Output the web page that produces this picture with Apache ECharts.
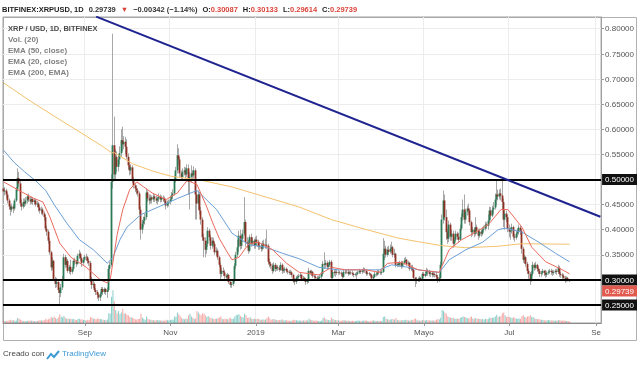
<!DOCTYPE html>
<html><head><meta charset="utf-8">
<script src="https://cdn.jsdelivr.net/npm/echarts@6/dist/echarts.min.js"></script>
<style>html,body{margin:0;padding:0;background:#fff}#c{width:640px;height:366px}</style>
</head><body><div id="c"></div>
<script>
// ---------- DATA ----------
const firstDay = '2018-07-05';
const lastAxisDay = '2019-09-04';
// daily candles [open, close, low, high] from 2018-07-05 to 2019-08-13
const ohlc = [
// 2018-07
[0.482,0.476,0.470,0.488],[0.476,0.478,0.468,0.485],[0.478,0.470,0.462,0.482],[0.470,0.458,0.452,0.474],[0.458,0.446,0.440,0.462],
[0.446,0.440,0.428,0.450],[0.440,0.446,0.435,0.452],[0.446,0.442,0.433,0.451],[0.442,0.458,0.438,0.462],[0.458,0.480,0.455,0.485],
[0.480,0.503,0.476,0.522],[0.503,0.492,0.485,0.515],[0.492,0.452,0.446,0.498],[0.452,0.446,0.438,0.460],[0.446,0.455,0.442,0.462],
[0.455,0.452,0.445,0.462],[0.452,0.458,0.448,0.465],[0.458,0.466,0.452,0.470],[0.466,0.460,0.455,0.472],[0.460,0.456,0.450,0.466],
[0.456,0.461,0.451,0.466],[0.461,0.455,0.449,0.464],[0.455,0.458,0.450,0.462],[0.458,0.450,0.446,0.461],[0.450,0.452,0.445,0.457],
[0.452,0.444,0.436,0.455],[0.444,0.438,0.432,0.448],
// 2018-08
[0.438,0.440,0.430,0.446],[0.440,0.432,0.428,0.444],[0.432,0.425,0.418,0.436],[0.425,0.402,0.398,0.430],[0.402,0.396,0.388,0.408],
[0.396,0.378,0.372,0.400],[0.378,0.355,0.350,0.384],[0.355,0.325,0.318,0.358],[0.325,0.338,0.320,0.345],[0.338,0.302,0.298,0.340],
[0.302,0.292,0.284,0.306],[0.292,0.296,0.285,0.304],[0.296,0.280,0.274,0.300],[0.280,0.274,0.252,0.284],[0.274,0.285,0.266,0.292],
[0.285,0.302,0.280,0.308],[0.302,0.345,0.298,0.352],[0.345,0.330,0.324,0.350],[0.330,0.338,0.325,0.345],[0.338,0.318,0.314,0.342],
[0.318,0.326,0.312,0.330],[0.326,0.316,0.310,0.340],[0.316,0.322,0.312,0.326],[0.322,0.338,0.318,0.342],[0.338,0.336,0.330,0.344],
[0.336,0.332,0.326,0.340],[0.332,0.348,0.330,0.352],[0.348,0.352,0.342,0.360],[0.352,0.343,0.338,0.356],[0.343,0.334,0.326,0.346],
[0.334,0.340,0.330,0.345],
// 2018-09
[0.340,0.346,0.336,0.350],[0.346,0.345,0.338,0.352],[0.345,0.338,0.332,0.348],[0.338,0.334,0.328,0.342],[0.334,0.302,0.296,0.338],
[0.302,0.290,0.282,0.306],[0.290,0.292,0.284,0.298],[0.292,0.280,0.276,0.295],[0.280,0.276,0.270,0.284],[0.276,0.270,0.262,0.280],
[0.270,0.265,0.258,0.274],[0.265,0.272,0.258,0.276],[0.272,0.282,0.268,0.286],[0.282,0.276,0.270,0.286],[0.276,0.282,0.272,0.285],
[0.282,0.276,0.270,0.284],[0.276,0.280,0.264,0.285],[0.280,0.322,0.276,0.328],[0.322,0.330,0.300,0.336],[0.330,0.495,0.326,0.510],
[0.495,0.568,0.482,0.790],[0.568,0.510,0.498,0.625],[0.510,0.545,0.500,0.560],[0.545,0.525,0.515,0.556],[0.525,0.540,0.516,0.550],
[0.540,0.552,0.530,0.566],[0.552,0.578,0.545,0.600],[0.578,0.570,0.556,0.605],[0.570,0.575,0.560,0.586],[0.575,0.565,0.550,0.585],
// 2018-10
[0.565,0.545,0.540,0.580],[0.545,0.528,0.520,0.552],[0.528,0.518,0.508,0.535],[0.518,0.524,0.510,0.530],[0.524,0.500,0.494,0.528],
[0.500,0.488,0.482,0.505],[0.488,0.482,0.475,0.492],[0.482,0.478,0.470,0.488],[0.478,0.472,0.466,0.482],[0.472,0.440,0.430,0.476],
[0.440,0.400,0.380,0.446],[0.400,0.412,0.392,0.420],[0.412,0.418,0.405,0.426],[0.418,0.425,0.410,0.432],[0.425,0.474,0.420,0.482],
[0.474,0.462,0.455,0.478],[0.462,0.458,0.450,0.470],[0.458,0.464,0.452,0.470],[0.464,0.460,0.452,0.468],[0.460,0.466,0.455,0.472],
[0.466,0.462,0.455,0.470],[0.462,0.458,0.452,0.468],[0.458,0.462,0.450,0.466],[0.462,0.465,0.455,0.472],[0.465,0.460,0.454,0.470],
[0.460,0.463,0.455,0.468],[0.463,0.461,0.455,0.468],[0.461,0.458,0.452,0.466],[0.458,0.448,0.440,0.462],[0.448,0.452,0.444,0.458],
[0.452,0.455,0.446,0.460],
// 2018-11
[0.455,0.460,0.450,0.466],[0.460,0.468,0.456,0.475],[0.468,0.472,0.462,0.480],[0.472,0.500,0.468,0.508],[0.500,0.518,0.494,0.525],
[0.518,0.548,0.512,0.570],[0.548,0.540,0.528,0.562],[0.540,0.512,0.505,0.545],[0.512,0.505,0.498,0.518],[0.505,0.515,0.500,0.522],
[0.515,0.518,0.508,0.525],[0.518,0.510,0.502,0.524],[0.510,0.522,0.505,0.530],[0.522,0.495,0.470,0.530],[0.495,0.505,0.440,0.515],
[0.505,0.512,0.495,0.528],[0.512,0.508,0.500,0.518],[0.508,0.518,0.502,0.526],[0.518,0.470,0.420,0.522],[0.470,0.452,0.420,0.478],
[0.452,0.470,0.440,0.478],[0.470,0.438,0.430,0.475],[0.438,0.420,0.410,0.445],[0.420,0.385,0.378,0.425],[0.385,0.378,0.345,0.392],
[0.378,0.360,0.345,0.385],[0.360,0.372,0.352,0.378],[0.372,0.398,0.366,0.405],[0.398,0.385,0.378,0.402],[0.385,0.368,0.360,0.390],
// 2018-12
[0.368,0.378,0.362,0.385],[0.378,0.372,0.365,0.384],[0.372,0.355,0.350,0.376],[0.355,0.358,0.348,0.365],[0.358,0.345,0.340,0.362],
[0.345,0.330,0.325,0.348],[0.330,0.312,0.300,0.335],[0.312,0.318,0.306,0.324],[0.318,0.315,0.308,0.325],[0.315,0.308,0.302,0.320],
[0.308,0.305,0.298,0.312],[0.305,0.310,0.300,0.314],[0.310,0.296,0.292,0.312],[0.296,0.290,0.285,0.300],[0.290,0.292,0.284,0.296],
[0.292,0.298,0.288,0.302],[0.298,0.328,0.295,0.333],[0.328,0.350,0.322,0.356],[0.350,0.365,0.345,0.380],[0.365,0.388,0.355,0.398],
[0.388,0.368,0.360,0.400],[0.368,0.382,0.362,0.390],[0.382,0.392,0.376,0.400],[0.392,0.415,0.388,0.465],[0.415,0.375,0.366,0.420],
[0.375,0.372,0.364,0.385],[0.372,0.358,0.352,0.380],[0.358,0.385,0.355,0.390],[0.385,0.372,0.366,0.392],[0.372,0.378,0.368,0.385],
[0.378,0.368,0.362,0.382],
// 2019-01
[0.368,0.380,0.362,0.386],[0.380,0.376,0.368,0.388],[0.376,0.366,0.360,0.380],[0.366,0.368,0.360,0.374],[0.368,0.362,0.356,0.372],
[0.362,0.372,0.358,0.378],[0.372,0.368,0.362,0.380],[0.368,0.370,0.362,0.382],[0.370,0.368,0.362,0.400],[0.368,0.336,0.330,0.372],
[0.336,0.332,0.325,0.342],[0.332,0.328,0.322,0.336],[0.328,0.318,0.312,0.333],[0.318,0.330,0.315,0.335],[0.330,0.322,0.316,0.334],
[0.322,0.326,0.318,0.330],[0.326,0.324,0.318,0.330],[0.324,0.320,0.316,0.328],[0.320,0.330,0.318,0.335],[0.330,0.318,0.312,0.333],
[0.318,0.320,0.314,0.324],[0.320,0.322,0.314,0.326],[0.322,0.318,0.314,0.325],[0.318,0.316,0.311,0.322],[0.316,0.314,0.310,0.320],
[0.314,0.315,0.310,0.320],[0.315,0.310,0.305,0.318],[0.310,0.300,0.294,0.312],[0.300,0.296,0.290,0.303],[0.296,0.304,0.292,0.308],
[0.304,0.306,0.298,0.310],
// 2019-02
[0.306,0.308,0.300,0.312],[0.308,0.310,0.304,0.314],[0.310,0.302,0.298,0.312],[0.302,0.304,0.298,0.308],[0.304,0.302,0.298,0.306],
[0.302,0.296,0.290,0.304],[0.296,0.298,0.292,0.302],[0.298,0.318,0.294,0.324],[0.318,0.314,0.310,0.320],[0.314,0.316,0.308,0.320],
[0.316,0.308,0.304,0.318],[0.308,0.306,0.302,0.312],[0.306,0.304,0.300,0.310],[0.304,0.302,0.298,0.308],[0.302,0.304,0.300,0.308],
[0.304,0.306,0.301,0.310],[0.306,0.312,0.302,0.316],[0.312,0.332,0.308,0.338],[0.332,0.330,0.322,0.355],[0.330,0.334,0.324,0.340],
[0.334,0.326,0.320,0.338],[0.326,0.330,0.322,0.334],[0.330,0.336,0.326,0.340],[0.336,0.304,0.298,0.340],[0.304,0.316,0.302,0.320],
[0.316,0.314,0.308,0.320],[0.314,0.316,0.306,0.320],[0.316,0.314,0.310,0.320],
// 2019-03
[0.314,0.315,0.310,0.320],[0.315,0.314,0.310,0.318],[0.314,0.312,0.308,0.317],[0.312,0.306,0.302,0.315],[0.306,0.316,0.304,0.320],
[0.316,0.315,0.311,0.320],[0.315,0.316,0.312,0.320],[0.316,0.312,0.308,0.322],[0.312,0.315,0.310,0.318],[0.315,0.314,0.310,0.318],
[0.314,0.312,0.308,0.318],[0.312,0.310,0.305,0.315],[0.310,0.311,0.307,0.314],[0.311,0.312,0.300,0.316],[0.312,0.315,0.309,0.318],
[0.315,0.318,0.312,0.322],[0.318,0.316,0.312,0.320],[0.316,0.318,0.312,0.322],[0.318,0.320,0.314,0.325],[0.320,0.318,0.314,0.324],
[0.318,0.312,0.308,0.322],[0.312,0.313,0.309,0.316],[0.313,0.312,0.308,0.316],[0.312,0.310,0.306,0.314],[0.310,0.303,0.298,0.312],
[0.303,0.306,0.300,0.310],[0.306,0.312,0.304,0.316],[0.312,0.311,0.307,0.315],[0.311,0.316,0.308,0.320],[0.316,0.315,0.311,0.320],
[0.315,0.314,0.310,0.318],
// 2019-04
[0.314,0.316,0.310,0.320],[0.316,0.352,0.314,0.383],[0.352,0.362,0.340,0.378],[0.362,0.350,0.344,0.368],[0.350,0.360,0.346,0.366],
[0.360,0.356,0.350,0.368],[0.356,0.362,0.352,0.370],[0.362,0.365,0.354,0.376],[0.365,0.350,0.345,0.368],[0.350,0.352,0.344,0.362],
[0.352,0.330,0.325,0.354],[0.330,0.332,0.325,0.336],[0.332,0.330,0.326,0.336],[0.330,0.334,0.326,0.338],[0.334,0.326,0.322,0.338],
[0.326,0.334,0.324,0.338],[0.334,0.338,0.330,0.344],[0.338,0.340,0.334,0.346],[0.340,0.332,0.328,0.342],[0.332,0.334,0.328,0.338],
[0.334,0.322,0.318,0.336],[0.322,0.325,0.318,0.330],[0.325,0.320,0.316,0.330],[0.320,0.304,0.298,0.322],[0.304,0.298,0.286,0.306],
[0.298,0.302,0.292,0.306],[0.302,0.300,0.296,0.305],[0.300,0.304,0.296,0.308],[0.304,0.302,0.298,0.306],[0.302,0.312,0.300,0.316],
// 2019-05
[0.312,0.308,0.304,0.316],[0.308,0.312,0.305,0.316],[0.312,0.318,0.308,0.324],[0.318,0.316,0.308,0.322],[0.316,0.312,0.307,0.320],
[0.312,0.314,0.306,0.318],[0.314,0.310,0.305,0.318],[0.310,0.312,0.306,0.316],[0.312,0.310,0.305,0.315],[0.310,0.306,0.300,0.316],
[0.306,0.302,0.294,0.310],[0.302,0.304,0.296,0.312],[0.304,0.330,0.300,0.336],[0.330,0.420,0.326,0.430],[0.420,0.458,0.412,0.478],
[0.458,0.425,0.418,0.470],[0.425,0.395,0.380,0.440],[0.395,0.382,0.372,0.402],[0.382,0.410,0.375,0.418],[0.410,0.386,0.378,0.414],
[0.386,0.392,0.378,0.400],[0.392,0.372,0.364,0.398],[0.372,0.380,0.366,0.386],[0.380,0.392,0.376,0.398],[0.392,0.386,0.380,0.396],
[0.386,0.380,0.374,0.394],[0.380,0.402,0.378,0.410],[0.402,0.425,0.398,0.432],[0.425,0.440,0.418,0.460],[0.440,0.420,0.412,0.470],
[0.420,0.436,0.412,0.442],
// 2019-06
[0.436,0.442,0.428,0.448],[0.442,0.438,0.430,0.452],[0.438,0.415,0.408,0.442],[0.415,0.395,0.385,0.418],[0.395,0.400,0.388,0.406],
[0.400,0.392,0.385,0.404],[0.392,0.405,0.388,0.425],[0.405,0.398,0.392,0.410],[0.398,0.388,0.380,0.402],[0.388,0.396,0.384,0.402],
[0.396,0.392,0.386,0.400],[0.392,0.400,0.388,0.405],[0.400,0.402,0.395,0.408],[0.402,0.410,0.398,0.416],[0.410,0.408,0.402,0.415],
[0.408,0.418,0.400,0.430],[0.418,0.438,0.414,0.446],[0.438,0.428,0.420,0.445],[0.428,0.440,0.425,0.448],[0.440,0.444,0.432,0.455],
[0.444,0.460,0.440,0.472],[0.460,0.470,0.448,0.500],[0.470,0.466,0.458,0.480],[0.466,0.472,0.460,0.480],[0.472,0.468,0.458,0.482],
[0.468,0.455,0.440,0.505],[0.455,0.420,0.405,0.462],[0.420,0.432,0.400,0.440],[0.432,0.425,0.415,0.438],[0.425,0.402,0.395,0.430],
// 2019-07
[0.402,0.396,0.385,0.410],[0.396,0.398,0.380,0.404],[0.398,0.405,0.392,0.412],[0.405,0.386,0.380,0.408],[0.386,0.384,0.376,0.392],
[0.384,0.392,0.380,0.398],[0.392,0.396,0.386,0.402],[0.396,0.404,0.390,0.410],[0.404,0.398,0.390,0.408],[0.398,0.362,0.352,0.402],
[0.362,0.340,0.334,0.366],[0.340,0.345,0.332,0.350],[0.345,0.332,0.326,0.348],[0.332,0.318,0.312,0.336],[0.318,0.312,0.302,0.322],
[0.312,0.300,0.290,0.316],[0.300,0.312,0.296,0.318],[0.312,0.330,0.308,0.336],[0.330,0.324,0.318,0.334],[0.324,0.330,0.320,0.336],
[0.330,0.322,0.316,0.332],[0.322,0.318,0.312,0.326],[0.318,0.312,0.306,0.322],[0.312,0.314,0.306,0.318],[0.314,0.318,0.310,0.322],
[0.318,0.314,0.308,0.320],[0.314,0.310,0.304,0.320],[0.310,0.314,0.306,0.318],[0.314,0.316,0.310,0.320],[0.316,0.318,0.312,0.322],
[0.318,0.316,0.310,0.322],
// 2019-08
[0.316,0.314,0.308,0.320],[0.314,0.316,0.310,0.320],[0.316,0.318,0.312,0.322],[0.318,0.316,0.310,0.322],[0.316,0.324,0.312,0.330],
[0.324,0.312,0.306,0.328],[0.312,0.310,0.304,0.316],[0.310,0.308,0.302,0.314],[0.308,0.304,0.298,0.312],[0.304,0.300,0.294,0.308],
[0.300,0.304,0.296,0.307],[0.304,0.301,0.297,0.306],[0.30087,0.29739,0.29614,0.30133]
];
// daily volume (millions XRP, approx.)
const volume = [
22,18,15,20,25,30,22,26,20,24,45,38,30,22,18,16,20,18,22,20,24,18,16,15,18,22,26,
24,22,26,38,30,35,42,55,48,60,45,38,52,80,60,50,65,48,40,42,36,40,35,38,30,28,36,40,32,35,28,
26,24,30,28,55,48,38,40,35,42,38,36,34,30,28,26,32,90,85,240,300,200,120,90,110,80,95,130,85,90,
75,70,55,50,48,42,35,32,36,40,85,50,38,30,60,40,32,30,28,26,24,26,28,25,24,22,20,22,30,26,24,
28,32,30,60,55,95,80,65,45,40,35,42,38,70,85,60,48,40,42,110,95,80,70,90,85,70,55,65,50,45,
42,36,40,38,45,50,60,40,35,38,36,34,42,48,36,38,60,70,75,80,65,55,50,85,70,45,48,52,40,36,38,
35,40,36,32,28,34,30,32,45,60,42,30,34,36,30,28,26,28,30,32,24,26,25,22,20,20,22,30,28,26,24,
22,20,22,24,20,26,24,40,30,25,22,20,22,20,18,18,24,45,50,35,30,28,26,48,36,30,28,26,
22,20,20,24,26,22,20,22,18,18,20,18,18,20,22,20,18,20,22,24,22,18,16,16,24,22,20,18,20,18,18,
20,55,60,40,35,30,32,34,36,30,45,30,26,24,26,28,26,30,28,24,22,30,26,34,42,30,24,22,24,26,
26,24,28,26,24,22,24,22,24,30,36,32,48,120,110,95,85,60,55,50,45,48,40,42,38,40,45,55,60,55,50,
45,40,52,60,42,38,45,40,38,36,34,36,32,38,34,40,50,45,48,50,60,75,55,60,65,90,95,70,55,60,
55,50,46,52,45,40,38,42,40,65,70,55,50,60,62,70,58,55,42,38,36,34,32,30,28,26,24,26,28,26,24,
22,24,20,22,28,26,22,20,22,20,18,18,14
];
const ema20 = [
['2018-07-05',0.495],['2018-07-16',0.478],['2018-07-26',0.463],['2018-08-02',0.455],['2018-08-07',0.425],
['2018-08-14',0.373],['2018-08-22',0.345],['2018-09-02',0.325],['2018-09-12',0.300],['2018-09-17',0.294],
['2018-09-19',0.300],['2018-09-21',0.335],['2018-09-24',0.390],['2018-09-28',0.440],['2018-10-03',0.480],
['2018-10-08',0.495],['2018-10-13',0.485],['2018-10-19',0.473],['2018-10-29',0.460],['2018-11-06',0.473],
['2018-11-13',0.498],['2018-11-20',0.490],['2018-11-27',0.445],['2018-12-01',0.415],['2018-12-06',0.382],
['2018-12-11',0.358],['2018-12-15',0.340],['2018-12-20',0.345],['2018-12-27',0.372],['2019-01-03',0.375],
['2019-01-13',0.360],['2019-01-23',0.333],['2019-02-01',0.315],['2019-02-15',0.310],['2019-02-24',0.325],
['2019-03-06',0.320],['2019-03-21',0.320],['2019-03-30',0.315],['2019-04-05',0.333],['2019-04-15',0.335],
['2019-04-27',0.320],['2019-05-12',0.315],['2019-05-19',0.360],['2019-05-28',0.380],['2019-06-07',0.395],
['2019-06-16',0.410],['2019-06-25',0.440],['2019-06-30',0.440],['2019-07-10',0.405],['2019-07-17',0.365],
['2019-07-27',0.336],['2019-08-08',0.320],['2019-08-13',0.312]
];
const ema50 = [
['2018-07-05',0.558],['2018-07-12',0.535],['2018-07-20',0.515],['2018-07-28',0.497],['2018-08-04',0.478],
['2018-08-10',0.450],['2018-08-19',0.413],['2018-08-28',0.380],['2018-09-07',0.360],['2018-09-17',0.333],
['2018-09-21',0.345],['2018-09-26',0.380],['2018-10-01',0.405],['2018-10-11',0.430],['2018-10-25',0.447],
['2018-11-06',0.462],['2018-11-20',0.478],['2018-12-04',0.440],['2018-12-15',0.393],['2018-12-27',0.370],
['2019-01-08',0.365],['2019-01-20',0.353],['2019-02-01',0.342],['2019-02-15',0.325],['2019-03-01',0.320],
['2019-03-21',0.320],['2019-03-30',0.320],['2019-04-08',0.330],['2019-04-20',0.325],['2019-04-27',0.320],
['2019-05-12',0.315],['2019-05-19',0.340],['2019-05-31',0.360],['2019-06-12',0.375],['2019-06-23',0.400],
['2019-06-28',0.403],['2019-07-10',0.395],['2019-07-22',0.375],['2019-08-03',0.353],['2019-08-13',0.336]
];
const ema200 = [
['2018-07-05',0.692],['2018-07-24',0.656],['2018-08-14',0.619],['2018-09-01',0.588],['2018-09-14',0.565],
['2018-09-20',0.553],['2018-09-22',0.553],['2018-10-05',0.531],['2018-10-20',0.516],['2018-11-02',0.506],
['2018-11-22',0.499],['2018-12-15',0.485],['2019-01-08',0.465],['2019-02-01',0.445],['2019-02-24',0.420],
['2019-03-21',0.400],['2019-04-13',0.383],['2019-04-27',0.376],['2019-05-14',0.368],['2019-05-31',0.364],
['2019-06-23',0.367],['2019-07-10',0.372],['2019-08-13',0.371]
];
const levels = [0.50, 0.30, 0.25];
const trendLine = [['2018-09-09', 0.824], ['2019-09-04', 0.4257]];
const lastPrice = 0.29739;
const priceTicks = [0.25,0.30,0.35,0.40,0.45,0.50,0.55,0.60,0.65,0.70,0.75,0.80];
const timeTicks = [['2018-09-01','Sep'],['2018-11-01','Nov'],['2019-01-01','2019'],['2019-03-01','Mar'],
                   ['2019-05-01','Mayo'],['2019-07-01','Jul'],['2019-09-01','Se']];

// ---------- BUILD ----------
function dayList(a, b) {
  const out = []; let d = Date.parse(a + 'T00:00:00Z'); const e = Date.parse(b + 'T00:00:00Z');
  while (d <= e) { out.push(new Date(d).toISOString().slice(0, 10)); d += 86400000; }
  return out;
}
const days = dayList(firstDay, lastAxisDay);
const tickMap = Object.fromEntries(timeTicks);
const isTick = (i, v) => tickMap[v] !== undefined;
const isLevel = v => levels.some(l => Math.abs(l - v) < 1e-9);

const wickData = ohlc.map(d => [d[0], d[1], d[2], d[3]]);
const bodyData = ohlc.map(d => [d[0], d[1], Math.min(d[0], d[1]), Math.max(d[0], d[1])]);
const volData = volume.map((v, i) => ({
  value: v,
  itemStyle: { color: (ohlc[i] && ohlc[i][1] >= ohlc[i][0]) ? 'rgba(38,166,154,0.55)' : 'rgba(239,83,80,0.5)' }
}));

const FONT = 'Liberation Sans';
const chart = echarts.init(document.getElementById('c'), null, { renderer: 'canvas' });
chart.setOption({
  animation: false,
  backgroundColor: '#fff',
  textStyle: { fontFamily: FONT },
  title: [
    { left: 2, top: 1, padding: 0,
      text: '{b|BITFINEX:XRPUSD, 1D} {n|0.29739} {r|▼} {n|−0.00342 (−1.14%)} {b|O:}{r|0.30087} {b|H:}{r|0.30133} {b|L:}{r|0.29614} {b|C:}{r|0.29739}',
      textStyle: { rich: {
        b: { fontFamily: FONT, fontSize: 7.5, fontWeight: 'bold', color: '#1e1e1e' },
        n: { fontFamily: FONT, fontSize: 7.5, color: '#333' },
        r: { fontFamily: FONT, fontSize: 7.5, color: '#d9443a' } } } },
    { left: 8, top: 23, padding: 0,
      text: '{t|XRP / USD, 1D, BITFINEX}\n{s|Vol. (20)}\n{s|EMA (50, close)}\n{s|EMA (20, close)}\n{s|EMA (200, EMA)}',
      textStyle: { rich: {
        t: { fontFamily: FONT, fontSize: 7.5, fontWeight: 'bold', color: '#4a4a4a', lineHeight: 11 },
        s: { fontFamily: FONT, fontSize: 8, color: '#808080', lineHeight: 11 } } } },
    { left: 3, top: 350, padding: 0, text: 'Creado con',
      textStyle: { fontFamily: FONT, fontSize: 8, fontWeight: 'normal', color: '#444' } },
    { left: 62, top: 350, padding: 0, text: 'TradingView',
      textStyle: { fontFamily: FONT, fontSize: 8, fontWeight: 'normal', color: '#3b9ad6' } }
  ],
  graphic: [
    { type: 'rect', silent: true, z: -1, shape: { x: 3.5, y: 17.5, width: 633, height: 323 },
      style: { fill: 'none', stroke: '#b0b0b0', lineWidth: 1 } },
    { type: 'polyline', silent: true, shape: { points: [[47, 359], [51, 354], [54, 357], [59, 351]] },
      style: { fill: 'none', stroke: '#3b9ad6', lineWidth: 2 } }
  ],
  grid: { left: 3, right: 38, top: 17, bottom: 43, show: true, borderColor: '#a0a0a0', borderWidth: 1 },
  xAxis: {
    type: 'category', data: days, boundaryGap: true,
    axisLine: { lineStyle: { color: '#8a8a8a' } },
    axisTick: { show: true, alignWithLabel: true, interval: isTick, length: 3, lineStyle: { color: '#999' } },
    axisLabel: { interval: isTick, formatter: v => tickMap[v] || '', fontFamily: FONT, fontSize: 8, color: '#555', margin: 6 },
    splitLine: { show: true, interval: isTick, lineStyle: { color: '#ececec' } }
  },
  yAxis: [
    { type: 'value', position: 'right', min: 0.2142, max: 0.8233,
      axisLine: { show: true, lineStyle: { color: '#a0a0a0' } },
      axisTick: { show: true, customValues: priceTicks, length: 3, lineStyle: { color: '#999' } },
      axisLabel: { customValues: priceTicks, margin: 1,
        formatter: v => isLevel(v) ? '{lv|' + v.toFixed(5) + '}' : '{n|' + v.toFixed(5) + '}',
        rich: {
          n: { fontFamily: FONT, fontSize: 8, color: '#555', padding: [2, 3, 1, 3] },
          lv: { fontFamily: FONT, fontSize: 8, color: '#fff', backgroundColor: '#111', padding: [2, 3, 1, 3] } } },
      splitLine: { show: true, lineStyle: { color: '#ececec' } } },
    { type: 'value', min: 0, max: 2800, show: false, splitLine: { show: false } }
  ],
  series: [
    { name: 'Vol', type: 'bar', yAxisIndex: 1, data: volData, barWidth: '70%', z: 1, silent: true },
    { name: 'wick', type: 'candlestick', data: wickData, barWidth: '72%', z: 2, silent: true,
      itemStyle: { color: '#a8a8a8', color0: '#a8a8a8', borderColor: '#a8a8a8', borderColor0: '#a8a8a8', borderColorDoji: '#a8a8a8', borderWidth: 1 } },
    { name: 'XRP', type: 'candlestick', data: bodyData, barWidth: '72%', z: 3, silent: true,
      itemStyle: { color: '#2a7a55', color0: '#8f3025', borderColor: '#2a7a55', borderColor0: '#8f3025', borderColorDoji: '#444', borderWidth: 1.8 } },
    { name: 'EMA 200', type: 'line', data: ema200, showSymbol: false, z: 4, silent: true,
      lineStyle: { color: '#f6c26e', width: 1 } },
    { name: 'EMA 50', type: 'line', data: ema50, showSymbol: false, z: 4, silent: true,
      lineStyle: { color: '#6b9fd6', width: 1 } },
    { name: 'EMA 20', type: 'line', data: ema20, showSymbol: false, z: 4, silent: true,
      lineStyle: { color: '#ea6a5c', width: 1 } },
    { name: 'trend', type: 'line', data: trendLine, showSymbol: false, z: 5, silent: true,
      lineStyle: { color: '#1f2390', width: 2 },
      markLine: { silent: true, symbol: 'none', animation: false,
        data: levels.map(v => ({ yAxis: v, lineStyle: { color: '#000', width: 2, type: 'solid' }, label: { show: false } }))
          .concat([{ yAxis: lastPrice, lineStyle: { color: 'rgba(0,0,0,0)', width: 1 },
            label: { show: true, position: 'end', distance: 1, formatter: '{g| }\n{p|0.29739}',
              rich: { g: { height: 22, fontSize: 8, color: 'rgba(0,0,0,0)' },
                      p: { fontFamily: FONT, fontSize: 8, color: '#fff', backgroundColor: '#e05a4e', padding: [2, 3, 1, 3] } } } }]) } }
  ]
});
</script>
</body></html>
